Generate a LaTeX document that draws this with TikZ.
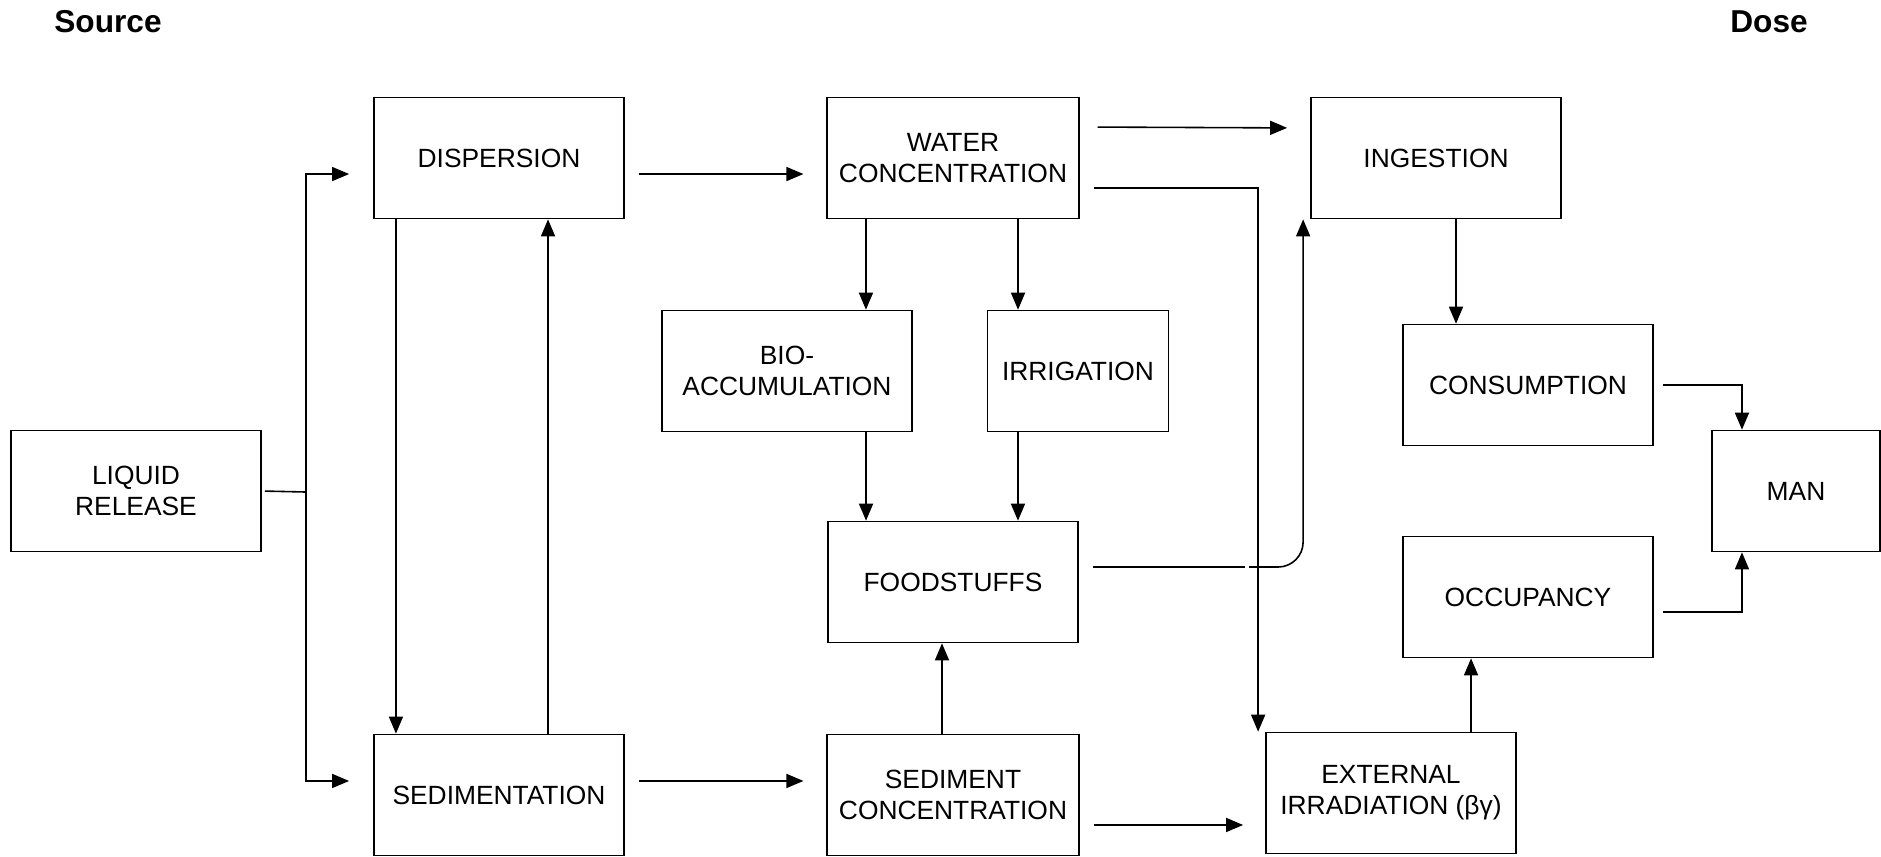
\documentclass[tikz,border=0pt]{standalone}
\usepackage{fontspec}
\setmainfont{Liberation Sans}
\usepackage{tikz}
\usetikzlibrary {arrows.meta,
                 calc,
                 positioning}
\tikzset{
        base/.style={draw, align=center, line width=0.45pt,
                     font=\fontsize{7.5}{8.8}\selectfont},
        box/.style={base, rectangle, minimum width=2.5cm, minimum
        height=1.21cm},
        head/.style={font=\fontsize{9}{10}\selectfont\bfseries},
        myarrow/.style={-{Triangle[length=0.17cm, width=0.14cm]}, line
        width=0.45pt},
        link/.style={line width=0.45pt},
 }

\begin{document}
\begin{tikzpicture}[x=0.01cm, y=-0.01cm]
    \useasboundingbox (0,0) rectangle (1881,856);

    \node[head] (src) at (108,22) {Source};
    \node[head] (dose) at (1769,22) {Dose};

    \node[box] (liq) at (136,491) {LIQUID\\RELEASE};

    \node[box] (disp) at (499,158) {DISPERSION};
    \node[box, below=5.14cm of disp] (sedi) {SEDIMENTATION};

    \node[box] (water) at (953,158) {WATER\\CONCENTRATION};
    \node[box] (bio) at (787,371) {BIO-\\ACCUMULATION};
    \node[box, minimum width=1.81cm] (irr) at (1078,371) {IRRIGATION};
    \node[box] (food) at (953,582) {FOODSTUFFS};
    \node[box, below=5.14cm of water] (sedc) {SEDIMENT\\CONCENTRATION};

    \node[box] (inge) at (1436,158) {INGESTION};
    \node[box] (cons) at (1528,385) {CONSUMPTION};
    \node[box] (occu) at (1528,597) {OCCUPANCY};
    \node[box, minimum width=1.68cm] (man) at (1796,491) {MAN};
    \node[box] (ext) at (1391,793) {EXTERNAL\\IRRADIATION (βγ)};

    % source fork
    \coordinate (fork) at (306,492);
    \draw[link, shorten <=0.03cm] (liq.east) -- (fork);
    \draw[myarrow, shorten >=0.24cm] (fork) |- ([yshift=-0.16cm]disp.west);
    \draw[myarrow, shorten >=0.24cm] (fork) |- ([yshift=0.14cm]sedi.west);

    \draw[myarrow] ([xshift=-1.03cm]disp.south) -- ([xshift=-1.03cm]sedi.north);
    \draw[myarrow] ([xshift=0.49cm]sedi.north) -- ([xshift=0.49cm]disp.south);

    \draw[myarrow, shorten <=0.14cm, shorten >=0.23cm] ([yshift=-0.16cm]disp.east) -- ([yshift=-0.16cm]water.west);
    \draw[myarrow, shorten <=0.14cm, shorten >=0.23cm] ([yshift=0.14cm]sedi.east) -- ([yshift=0.14cm]sedc.west);

    \draw[myarrow] ([xshift=-0.87cm]water.south) -- ([xshift=-0.87cm]water.south |- bio.north);
    \draw[myarrow] ([xshift=0.65cm]water.south) -- ([xshift=0.65cm]water.south |- irr.north);
    \draw[myarrow] ([xshift=0.79cm]bio.south) -- ([xshift=0.79cm]bio.south |- food.north);
    \draw[myarrow] ([xshift=-0.6cm]irr.south) -- ([xshift=-0.6cm]irr.south |- food.north);
    \draw[myarrow] ([xshift=-0.11cm]sedc.north) -- ([xshift=-0.11cm]sedc.north |- food.south);

    \draw[myarrow, shorten <=0.18cm, shorten >=0.23cm] ([yshift=0.31cm]water.east) -- ([yshift=0.3cm]inge.west);
    \draw[myarrow, shorten <=0.14cm] ([yshift=-0.3cm]water.east) -| ([xshift=-0.07cm]ext.north west);

    % foodstuffs to ingestion, over the line
    \coordinate (hop) at (1247,567);
    \draw[link, shorten <=0.14cm, shorten >=0.02cm] (food.east |- hop) -- (hop);
    \draw[myarrow, rounded corners=0.25cm, shorten <=0.02cm] (hop) -| ([xshift=-0.07cm]inge.south west);

    \draw[myarrow, shorten <=0.14cm, shorten >=0.22cm] ([yshift=-0.3cm]sedc.east) -- ([yshift=-0.3cm]sedc.east -| ext.west);

    \draw[myarrow] ([xshift=0.2cm]inge.south) -- ([xshift=0.2cm]inge.south |- cons.north);
    \draw[myarrow] ([xshift=0.8cm]ext.north) -- ([xshift=0.8cm]ext.north |- occu.south);

    \draw[myarrow, shorten <=0.09cm] (cons.east) -| ([xshift=-0.54cm]man.north);
    \draw[myarrow, shorten <=0.09cm] ([yshift=-0.15cm]occu.east) -| ([xshift=-0.54cm]man.south);
\end{tikzpicture}
\end{document}
